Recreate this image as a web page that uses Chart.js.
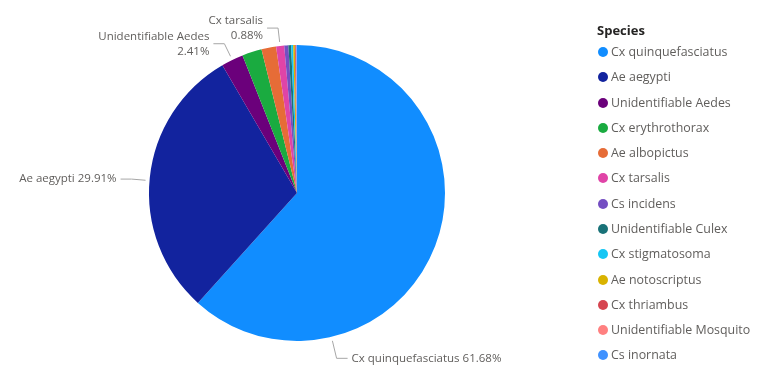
<!DOCTYPE html>
<html>
<head>
<meta charset="utf-8">
<script src="https://cdn.jsdelivr.net/npm/chart.js@4"></script>
<style>
  html, body { margin: 0; padding: 0; background: #fff; }
  #wrap { position: relative; width: 757px; height: 380px; }
  #pie { position: absolute; left: 0; top: 0; }
  #legend { position: absolute; left: 597px; top: 0; font-family: "Segoe UI", "Open Sans", sans-serif; }
  #legend .title { position: absolute; left: 0; top: 21px; font-size: 13px; font-weight: bold; color: #252423; white-space: nowrap; line-height: 18px; }
  #legend .item { position: absolute; left: 0; white-space: nowrap; font-size: 12.4px; color: #605E5C; line-height: 18px; }
  #legend .dot { position: absolute; left: 1px; top: 4px; width: 10px; height: 10px; border-radius: 50%; }
  #legend .txt { position: absolute; left: 14px; top: 0; }
</style>
</head>
<body>
<div id="wrap">
  <canvas id="pie" width="757" height="380"></canvas>
  <div id="legend"></div>
</div>
<script>
// data
const species = [
  "Cx quinquefasciatus", "Ae aegypti", "Unidentifiable Aedes", "Cx erythrothorax",
  "Ae albopictus", "Cx tarsalis", "Cs incidens", "Unidentifiable Culex",
  "Cx stigmatosoma", "Ae notoscriptus", "Cx thriambus", "Unidentifiable Mosquito", "Cs inornata"
];
const percent = [61.68, 29.91, 2.41, 2.14, 1.6, 0.88, 0.45, 0.3, 0.22, 0.18, 0.1, 0.07, 0.06];
const colours = [
  "#118DFF", "#12239E", "#6B007B", "#1AAB40", "#E66C37", "#E044A7", "#744EC2",
  "#197278", "#15C6F4", "#D9B300", "#D64550", "#FF8080", "#4092FF"
];
const legendTitle = "Species";

// which slices get an outside label (at = where along the slice the leader sits, reach = elbow distance)
const labelled = [
  { index: 0, at: 0.75, reach: 22, twoLines: false },
  { index: 1, at: 0.49, reach: 18, twoLines: false },
  { index: 2, at: 0.5, reach: 18, twoLines: true },
  { index: 5, at: 0.5, reach: 18, twoLines: true }
];

const labelFont = '11.5px "Segoe UI", "Open Sans", sans-serif';

const outsideLabels = {
  id: "outsideLabels",
  afterDatasetsDraw(chart) {
    const ctx = chart.ctx;
    const meta = chart.getDatasetMeta(0);
    ctx.save();
    ctx.font = labelFont;
    ctx.textBaseline = "middle";
    labelled.forEach(l => {
      const arc = meta.data[l.index];
      const p = arc.getProps(["x", "y", "startAngle", "endAngle", "outerRadius"], true);
      const a = p.startAngle + (p.endAngle - p.startAngle) * l.at;
      const c = Math.cos(a), s = Math.sin(a);
      const x0 = p.x + c * (p.outerRadius + 4), y0 = p.y + s * (p.outerRadius + 4);
      const x1 = p.x + c * (p.outerRadius + l.reach), y1 = p.y + s * (p.outerRadius + l.reach);
      const dir = c >= 0 ? 1 : -1;
      const x2 = x1 + dir * 11;

      ctx.strokeStyle = "#A6A6A6";
      ctx.lineWidth = 1;
      ctx.beginPath();
      ctx.moveTo(x0, y0);
      ctx.lineTo(x1, y1);
      ctx.lineTo(x2, y1);
      ctx.stroke();

      const pct = percent[l.index].toFixed(2) + "%";
      ctx.fillStyle = "#605E5C";
      ctx.textAlign = dir > 0 ? "left" : "right";
      const tx = x2 + dir * 4;
      if (l.twoLines) {
        ctx.fillText(species[l.index], tx, y1 - 7);
        ctx.fillText(pct, tx, y1 + 8);
      } else {
        ctx.fillText(species[l.index] + " " + pct, tx, y1);
      }
    });
    ctx.restore();
  }
};

new Chart(document.getElementById("pie"), {
  type: "pie",
  data: {
    labels: species,
    datasets: [{
      data: percent,
      backgroundColor: colours,
      borderWidth: 0
    }]
  },
  options: {
    responsive: false,
    animation: false,
    layout: { padding: { left: 0, right: 163, top: 45, bottom: 39 } },
    plugins: {
      legend: { display: false },
      tooltip: { enabled: false }
    },
    events: []
  },
  plugins: [outsideLabels]
});

// legend
const leg = document.getElementById("legend");
const t = document.createElement("div");
t.className = "title";
t.textContent = legendTitle;
leg.appendChild(t);
species.forEach((name, i) => {
  const it = document.createElement("div");
  it.className = "item";
  it.style.top = (43 + i * 25.28) + "px";
  it.innerHTML = `<span class="dot" style="background:${colours[i]}"></span><span class="txt">${name}</span>`;
  leg.appendChild(it);
});
</script>
</body>
</html>
